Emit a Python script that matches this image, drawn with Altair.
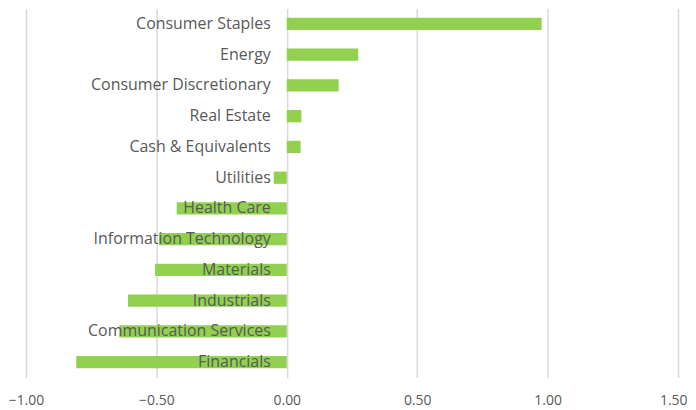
import altair as alt
import pandas as pd

sectors = ["Consumer Staples", "Energy", "Consumer Discretionary", "Real Estate",
           "Cash & Equivalents", "Utilities", "Health Care", "Information Technology",
           "Materials", "Industrials", "Communication Services", "Financials"]
values = [0.977, 0.274, 0.199, 0.056, 0.053, -0.050, -0.422, -0.490,
          -0.505, -0.609, -0.642, -0.807]

df = pd.DataFrame({"sector": sectors, "value": values})

FONT = "Open Sans"
GREY = "#595959"

y = alt.Y("sector:N", sort=sectors, axis=None,
          scale=alt.Scale(paddingInner=0.6, paddingOuter=0.3))

bars = alt.Chart(df).mark_bar(color="#92D050").encode(
    x=alt.X("value:Q", scale=alt.Scale(domain=[-1.0, 1.5], nice=False),
            axis=alt.Axis(values=[-1.0, -0.5, 0.0, 0.5, 1.0, 1.5], format=".2f",
                          title=None, grid=True, gridColor="#d9d9d9", gridWidth=1.5,
                          domain=False, ticks=False, labelFont=FONT, labelFontSize=14,
                          labelColor=GREY, labelPadding=16, labelFlush=False,
                          labelAlign={"condition": {"test": "datum.value == 1.5", "value": "right"},
                                      "value": "center"},
                          labelOffset={"condition": {"test": "datum.value == 1.5", "value": 9},
                                       "value": 0})),
    y=y,
)

labels = alt.Chart(df).mark_text(align="right", baseline="middle", dx=-16,
                                 font=FONT, fontSize=16, color=GREY).encode(
    x=alt.datum(0),
    y=y,
    text="sector:N",
)

chart = alt.layer(bars, labels).properties(
    width=654, height=370,
    autosize=alt.AutoSizeParams(type="none"),
    padding={"left": 18, "top": 0, "right": 10, "bottom": 30},
).configure_view(stroke=None)

chart.save("out.html", embed_options={"renderer": "svg", "actions": False})
